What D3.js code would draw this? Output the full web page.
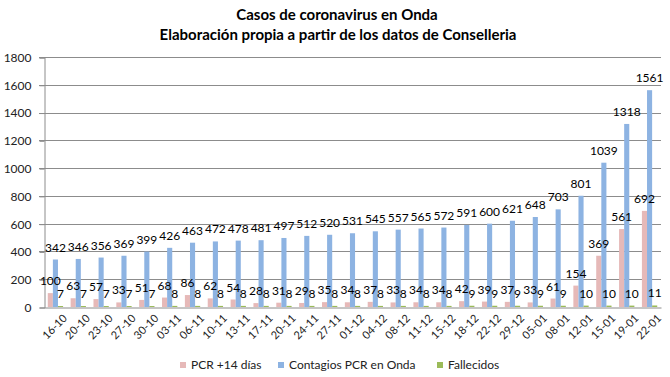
<!DOCTYPE html>
<html>
<head>
<meta charset="utf-8">
<script src="https://cdn.jsdelivr.net/npm/d3@7"></script>
<style>
  body { margin: 0; background: #fff; }
  svg { display: block; font-family: Lato, "Open Sans", sans-serif; }
</style>
</head>
<body>
<div id="chart"></div>
<script>
// data
var fechas = ["16-10","20-10","23-10","27-10","30-10","03-11","06-11","10-11","13-11","17-11",
  "20-11","24-11","27-11","01-12","04-12","08-12","11-12","15-12","18-12","22-12",
  "29-12","05-01","08-01","12-01","15-01","19-01","22-01"];
var pcr14 = [100,63,57,33,51,68,86,62,54,28,31,29,35,34,37,33,34,34,42,39,37,33,61,154,369,561,692];
var contagios = [342,346,356,369,399,426,463,472,478,481,497,512,520,531,545,557,565,572,591,600,621,648,703,801,1039,1318,1561];
var fallecidos = [7,7,7,7,7,8,8,8,8,8,8,8,8,8,8,8,8,8,9,9,9,9,9,10,10,10,11];
var yTicks = [0,200,400,600,800,1000,1200,1400,1600,1800];

var series = [
  {name: "PCR +14 días", values: pcr14, color: "#e6b9b8"},
  {name: "Contagios PCR en Onda", values: contagios, color: "#8db3e2"},
  {name: "Fallecidos", values: fallecidos, color: "#9bbb59"}
];

var width = 670, height = 377;
var margin = {top: 57, right: 9, bottom: 70, left: 44};

var svg = d3.select("#chart").append("svg")
  .attr("width", width)
  .attr("height", height);

// title
svg.append("text")
  .attr("x", 337).attr("y", 20)
  .attr("text-anchor", "middle")
  .style("font-weight", "bold").style("font-size", "15px")
  .text("Casos de coronavirus en Onda");
svg.append("text")
  .attr("x", 338).attr("y", 40)
  .attr("text-anchor", "middle")
  .style("font-weight", "bold").style("font-size", "15px")
  .text("Elaboración propia a partir de los datos de Conselleria");

var x0 = d3.scaleBand()
  .domain(fechas)
  .range([margin.left, width - margin.right])
  .paddingInner(0.33)
  .paddingOuter(0.165);

var x1 = d3.scaleBand()
  .domain(d3.range(series.length))
  .range([0, x0.bandwidth()]);

var y = d3.scaleLinear()
  .domain([0, 1800])
  .range([height - margin.bottom, margin.top]);

// gridlines
svg.append("g")
  .selectAll("line")
  .data(yTicks.slice(1))
  .enter().append("line")
  .attr("x1", margin.left - 5)
  .attr("x2", width - margin.right)
  .attr("y1", (d) => Math.round(y(d)) + 0.5)
  .attr("y2", (d) => Math.round(y(d)) + 0.5)
  .style("stroke", "#8c8c8c");

// y axis
var yAxis = svg.append("g")
  .attr("transform", "translate(" + (margin.left + 0.5) + ",0.5)")
  .call(d3.axisLeft(y).tickValues(yTicks).tickFormat(d3.format("d")).tickSize(5).tickPadding(8));
yAxis.selectAll("line, path").style("stroke", "#8c8c8c");
yAxis.selectAll("text").style("font-size", "12px").style("fill", "#222")
  .style("font-family", "Lato, sans-serif");

var points = [];
series.forEach((s, i) => s.values.forEach((v, j) => points.push({v: v, f: fechas[j], i: i, color: s.color})));

// bars
svg.append("g")
  .selectAll("rect")
  .data(points)
  .enter().append("rect")
  .attr("x", (d) => x0(d.f) + x1(d.i))
  .attr("width", x1.bandwidth())
  .attr("y", (d) => y(d.v))
  .attr("height", (d) => y(0) - y(d.v))
  .style("fill", (d) => d.color);

// x axis
var xAxis = svg.append("g")
  .attr("transform", "translate(0," + (Math.round(y(0)) + 0.5) + ")")
  .call(d3.axisBottom(x0).tickSize(0).tickPadding(0));
xAxis.select("path").style("stroke", "#8c8c8c");
xAxis.selectAll("text")
  .attr("text-anchor", "end")
  .attr("transform", "translate(7,6) rotate(-45)")
  .attr("dy", "0.7em")
  .style("font-size", "11px").style("fill", "#222")
  .style("font-family", "Lato, sans-serif");

// data labels, drawn over all bars
svg.append("g")
  .selectAll("text")
  .data(points)
  .enter().append("text")
  .attr("x", (d) => x0(d.f) + x1(d.i) + x1.bandwidth() / 2)
  .attr("y", (d) => y(d.v) - 8)
  .attr("text-anchor", "middle")
  .style("fill", "#000")
  .style("font-size", "12px")
  .text((d) => d.v);

// legend
var legendX = [180, 278, 437];
var legend = svg.append("g")
  .selectAll("g")
  .data(series)
  .enter().append("g")
  .attr("transform", (d, i) => "translate(" + legendX[i] + ",362)");
legend.append("rect")
  .attr("width", 6).attr("height", 6)
  .style("fill", (d) => d.color);
legend.append("text")
  .attr("x", 11).attr("y", 7)
  .style("font-size", "12px").style("fill", "#222")
  .text((d) => d.name);
</script>
</body>
</html>
